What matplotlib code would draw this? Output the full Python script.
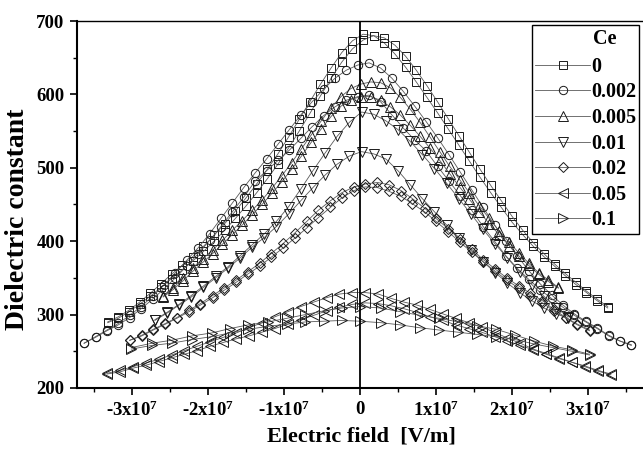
import matplotlib
matplotlib.use('Agg')
import matplotlib.pyplot as plt
import numpy as np
from matplotlib.ticker import MultipleLocator

# electric field in units of 1e7 V/m, two sweeps (a, b) per Ce content
x_0 = [-3.32, -3.18, -3.04, -2.90, -2.76, -2.62, -2.48, -2.34,
       -2.20, -2.06, -1.92, -1.78, -1.64, -1.50, -1.36, -1.22,
       -1.08, -0.94, -0.80, -0.66, -0.52, -0.38, -0.24, -0.10,
       0.04, 0.18, 0.32, 0.46, 0.60, 0.74, 0.88, 1.02,
       1.16, 1.30, 1.44, 1.58, 1.72, 1.86, 2.00, 2.14,
       2.28, 2.42, 2.56, 2.70, 2.84, 2.98, 3.12, 3.26]
y_0_a = [290, 297, 306, 317, 329, 342, 355, 367,
         379, 393, 408, 424, 441, 459, 478, 498,
         519, 542, 566, 590, 614, 636, 657, 673,
         682, 680, 670, 655, 637, 617, 596, 575,
         553, 531, 509, 487, 466, 446, 426, 409,
         393, 379, 366, 353, 341, 330, 319, 309]
y_0_b = [289, 295, 304, 314, 325, 337, 349, 361,
         373, 386, 400, 415, 431, 448, 466, 485,
         505, 527, 550, 574, 598, 622, 644, 662,
         674, 680, 677, 667, 652, 633, 612, 590,
         567, 544, 521, 498, 476, 455, 434, 415,
         398, 383, 369, 356, 344, 332, 321, 311]

x_002 = [-3.63, -3.48, -3.33, -3.18, -3.03, -2.88, -2.73, -2.58,
         -2.43, -2.28, -2.13, -1.98, -1.83, -1.68, -1.53, -1.38,
         -1.23, -1.08, -0.93, -0.78, -0.63, -0.48, -0.33, -0.18,
         -0.03, 0.12, 0.27, 0.42, 0.57, 0.72, 0.87, 1.02,
         1.17, 1.32, 1.47, 1.62, 1.77, 1.92, 2.07, 2.22,
         2.37, 2.52, 2.67, 2.82, 2.97, 3.12, 3.27, 3.42,
         3.57]
y_002_a = [261, 270, 279, 288, 299, 311, 325, 340,
           357, 374, 391, 410, 431, 452, 473, 493,
           512, 532, 552, 572, 590, 607, 622, 633,
           640, 643, 636, 622, 604, 584, 563, 541,
           518, 494, 470, 446, 422, 400, 380, 360,
           342, 327, 313, 301, 291, 282, 272, 264,
           259]
y_002_b = [261, 269, 278, 286, 296, 308, 321, 335,
           350, 366, 383, 401, 420, 440, 460, 482,
           496, 510, 524, 540, 556, 571, 583, 592,
           597, 599, 590, 572, 554, 538, 523, 502,
           482, 462, 442, 420, 400, 380, 363, 348,
           334, 322, 310, 299, 290, 281, 271, 264,
           258]

x_005 = [-2.59, -2.46, -2.33, -2.20, -2.07, -1.94, -1.81, -1.68,
         -1.55, -1.42, -1.29, -1.16, -1.03, -0.90, -0.77, -0.64,
         -0.51, -0.38, -0.25, -0.12, 0.01, 0.14, 0.27, 0.40,
         0.53, 0.66, 0.79, 0.92, 1.05, 1.18, 1.31, 1.44,
         1.57, 1.70, 1.83, 1.96, 2.09, 2.22, 2.35, 2.48,
         2.61]
y_005_a = [325, 336, 350, 364, 376, 388, 401, 415,
           428, 442, 456, 472, 489, 507, 526, 545,
           564, 582, 597, 608, 614, 617, 616, 609,
           596, 580, 562, 542, 522, 502, 484, 466,
           448, 431, 414, 399, 384, 370, 357, 347,
           337]
y_005_b = [324, 334, 346, 359, 371, 383, 396, 409,
           422, 436, 450, 465, 481, 498, 516, 535,
           553, 570, 584, 593, 597, 597, 592, 583,
           572, 558, 543, 527, 510, 492, 474, 457,
           440, 424, 409, 394, 380, 367, 355, 345,
           336]

x_01 = [-2.70, -2.54, -2.38, -2.22, -2.06, -1.90, -1.74, -1.58,
        -1.42, -1.26, -1.10, -0.94, -0.78, -0.62, -0.46, -0.30,
        -0.14, 0.02, 0.18, 0.34, 0.50, 0.66, 0.82, 0.98,
        1.14, 1.30, 1.46, 1.62, 1.78, 1.94, 2.10, 2.26,
        2.42, 2.58, 2.74]
y_01_a = [293, 303, 314, 326, 339, 352, 365, 380,
          395, 410, 427, 447, 471, 496, 520, 543,
          562, 576, 573, 564, 552, 536, 518, 499,
          479, 458, 437, 416, 396, 377, 358, 341,
          325, 309, 297]
y_01_b = [292, 302, 313, 324, 337, 350, 363, 377,
          392, 405, 420, 437, 455, 473, 490, 505,
          516, 522, 519, 512, 496, 477, 458, 440,
          422, 405, 388, 372, 357, 343, 330, 319,
          309, 301, 295]

x_02 = [-3.03, -2.87, -2.72, -2.56, -2.41, -2.25, -2.10, -1.94,
        -1.79, -1.63, -1.48, -1.32, -1.17, -1.01, -0.86, -0.70,
        -0.55, -0.39, -0.24, -0.08, 0.07, 0.23, 0.38, 0.54,
        0.69, 0.85, 1.00, 1.16, 1.31, 1.47, 1.62, 1.78,
        1.93, 2.09, 2.24, 2.40, 2.55, 2.71, 2.86, 3.02]
y_02_a = [265, 272, 280, 288, 296, 306, 315, 326,
          336, 347, 358, 370, 383, 397, 411, 427,
          442, 455, 466, 474, 478, 480, 477, 469,
          458, 445, 431, 417, 403, 389, 375, 362,
          350, 339, 329, 319, 307, 296, 287, 279]
y_02_b = [265, 271, 279, 287, 295, 304, 313, 323,
          333, 344, 355, 366, 378, 391, 404, 418,
          432, 446, 459, 469, 474, 473, 468, 461,
          451, 440, 427, 413, 399, 385, 372, 359,
          347, 336, 326, 316, 305, 295, 286, 278]

x_05 = [-3.33, -3.16, -2.99, -2.82, -2.65, -2.48, -2.31, -2.14,
        -1.97, -1.80, -1.63, -1.46, -1.29, -1.12, -0.95, -0.78,
        -0.61, -0.44, -0.27, -0.10, 0.07, 0.24, 0.41, 0.58,
        0.75, 0.92, 1.09, 1.26, 1.43, 1.60, 1.77, 1.94,
        2.11, 2.28, 2.45, 2.62, 2.79, 2.96, 3.13, 3.30]
y_05_a = [220, 224, 229, 234, 239, 245, 251, 257,
          263, 269, 275, 282, 289, 297, 304, 311,
          317, 323, 328, 330, 330, 328, 322, 317,
          313, 307, 301, 295, 289, 283, 276, 268,
          261, 253, 247, 241, 235, 230, 224, 219]
y_05_b = [219, 222, 227, 231, 236, 241, 246, 251,
          257, 262, 267, 271, 276, 281, 287, 293,
          299, 305, 310, 314, 316, 315, 312, 308,
          303, 297, 292, 286, 281, 276, 270, 264,
          258, 252, 246, 240, 235, 229, 223, 218]

x_1 = [-3.01, -2.74, -2.48, -2.21, -1.95, -1.71, -1.47, -1.21,
       -0.96, -0.72, -0.48, -0.24, 0.00, 0.27, 0.53, 0.79,
       1.04, 1.29, 1.54, 1.79, 2.04, 2.29, 2.54, 2.79, 3.02]
y_1_a = [255, 261, 265, 271, 275, 281, 286, 290,
         295, 300, 305, 309, 311, 309, 304, 299,
         295, 290, 285, 280, 272, 264, 257, 252, 246]
y_1_b = [253, 258, 261, 266, 270, 275, 280, 284,
         287, 290, 291, 292, 291, 289, 286, 282,
         279, 276, 273, 270, 266, 260, 255, 250, 245]

labels = ['0', '0.002', '0.005', '0.01', '0.02', '0.05', '0.1']
markers = ['s', 'o', '^', 'v', 'D', '<', '>']
xs = [x_0, x_002, x_005, x_01, x_02, x_05, x_1]
ya = [y_0_a, y_002_a, y_005_a, y_01_a, y_02_a, y_05_a, y_1_a]
yb = [y_0_b, y_002_b, y_005_b, y_01_b, y_02_b, y_05_b, y_1_b]

xtick_vals = [-3e7, -2e7, -1e7, 0, 1e7, 2e7, 3e7]
xtick_labels = ['-3x10$^7$', '-2x10$^7$', '-1x10$^7$', '0',
                '1x10$^7$', '2x10$^7$', '3x10$^7$']

plt.rcParams['font.family'] = 'Liberation Serif'
plt.rcParams['font.weight'] = 'bold'
plt.rcParams['mathtext.fontset'] = 'custom'
plt.rcParams['mathtext.rm'] = 'Liberation Serif:bold'
plt.rcParams['mathtext.it'] = 'Liberation Serif:bold'
plt.rcParams['mathtext.bf'] = 'Liberation Serif:bold'

fig = plt.figure(figsize=(6.43, 4.5), dpi=100)
ax = fig.add_axes([77 / 643, 62 / 450, 568 / 643, 367 / 450])

sizes = {'s': 5.4, 'o': 6, '^': 6.8, 'v': 6.8, 'D': 5.2, '<': 6.8, '>': 6.8}
handles = []
for lab, mk, x, a, b in zip(labels, markers, xs, ya, yb):
    x = np.array(x) * 1e7
    ms = sizes[mk]
    h, = ax.plot(x, a, marker=mk, ms=ms, mfc='none', mec='0.1', mew=0.7,
                 color='0.35', lw=0.6)
    ax.plot(x, b, marker=mk, ms=ms, mfc='none', mec='0.1', mew=0.7,
            color='0.35', lw=0.6)
    handles.append(h)

ax.axvline(0, color='k', lw=1.3, zorder=5)

ax.set_xlim(-3.724e7, 3.75e7)
ax.set_ylim(200, 700)
ax.set_xticks(xtick_vals)
ax.set_xticklabels(xtick_labels)
ax.xaxis.set_minor_locator(MultipleLocator(0.5e7))
ax.yaxis.set_major_locator(MultipleLocator(100))
ax.yaxis.set_minor_locator(MultipleLocator(50))
ax.tick_params(which='major', direction='out', length=5, width=1.2,
               labelsize=13.5, pad=4)
ax.tick_params(which='minor', direction='out', length=3, width=1.0)
for lbl in ax.get_xticklabels() + ax.get_yticklabels():
    lbl.set_fontweight('bold')

for s in ['left', 'bottom']:
    ax.spines[s].set_linewidth(1.5)
ax.spines['top'].set_linewidth(1.0)

ax.set_xlabel('Electric field  [V/m]', fontsize=16, fontweight='bold', labelpad=5)
ax.set_ylabel('Dielectric constant', fontsize=20, fontweight='bold')
ax.yaxis.set_label_coords(-47 / 568, 0.46)

leg = ax.legend(handles, labels, loc='upper right',
                bbox_to_anchor=(639 / 643, 1 - 25 / 450),
                bbox_transform=fig.transFigure, frameon=True, fancybox=False,
                edgecolor='k', framealpha=1, borderaxespad=0, numpoints=1,
                handlelength=2.7, handletextpad=0.05, labelspacing=0.28,
                borderpad=0.15, title=' ', title_fontsize=18,
                prop={'family': 'Liberation Serif', 'weight': 'bold', 'size': 14.5})
leg.get_frame().set_linewidth(1.0)
fig.text(605 / 643, 1 - 39 / 450, 'Ce', ha='center', va='center',
         fontsize=14.5, fontweight='bold')

fig.savefig('out.png', dpi=100)
